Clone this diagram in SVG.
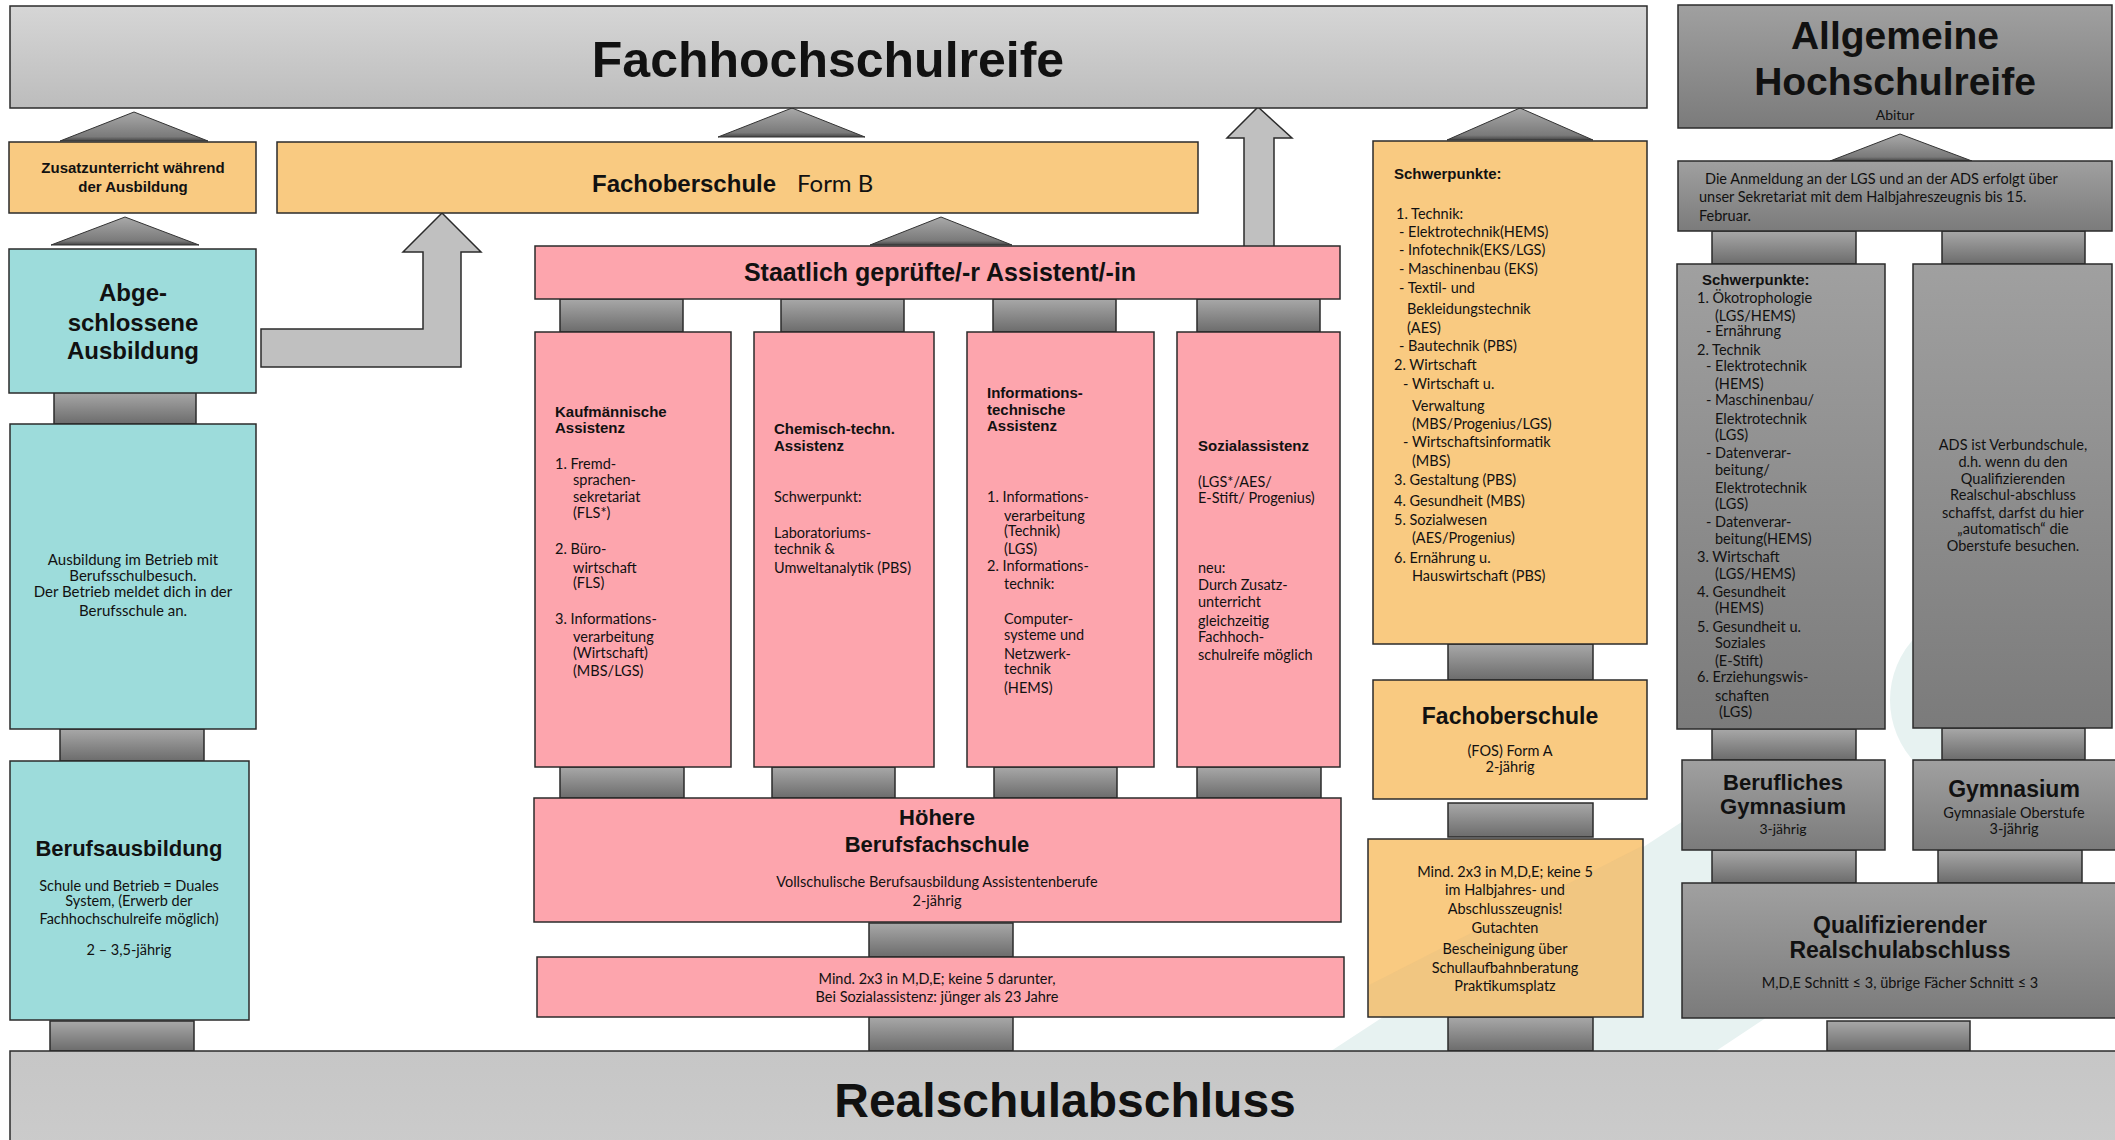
<svg xmlns="http://www.w3.org/2000/svg" width="2115" height="1140" viewBox="0 0 2115 1140">
<defs>
<linearGradient id="gTop" x1="0" y1="0" x2="0" y2="1"><stop offset="0" stop-color="#d6d6d6"/><stop offset="1" stop-color="#bcbcbc"/></linearGradient>
<linearGradient id="gBot" x1="0" y1="0" x2="0" y2="1"><stop offset="0" stop-color="#c6c6c6"/><stop offset="1" stop-color="#cbcbcb"/></linearGradient>
<linearGradient id="gGray" x1="0" y1="0" x2="0" y2="1"><stop offset="0" stop-color="#a0a0a0"/><stop offset="1" stop-color="#7b7b7b"/></linearGradient>
<linearGradient id="gConn" x1="0" y1="0" x2="0" y2="1"><stop offset="0" stop-color="#a8a8a8"/><stop offset="1" stop-color="#6c6c6c"/></linearGradient>
<linearGradient id="gTri" x1="0" y1="0" x2="0" y2="1"><stop offset="0" stop-color="#a9a9a9"/><stop offset="0.85" stop-color="#7a7a7a"/><stop offset="1" stop-color="#444"/></linearGradient>
</defs>
<style>
.bx{stroke:#2b2b2b;stroke-width:1.5}
.or{fill:#f9ca81}
.tl{fill:#9ddcdb}
.pk{fill:#fda5ad}
.gy{fill:url(#gGray)}
.cn{fill:url(#gConn);stroke:#2b2b2b;stroke-width:1.5}
.tri{fill:url(#gTri);stroke:#333;stroke-width:1}
.arr{fill:#c0c0c0;stroke:#2b2b2b;stroke-width:1.5}
text{font-family:Lato,"Liberation Sans",sans-serif;fill:#111;font-size:14.5px}
.b{font-family:"Liberation Sans",Arial,sans-serif;font-weight:bold}
.m{text-anchor:middle}
.s15{font-size:15px}
.h15{font-size:15px}
.h22{font-size:22px}
.h23{font-size:23px}
.h24{font-size:24px}
</style>

<g id="watermark">
<path d="M1331,1051 L1716,1051 L1850,962 L1850,830 L1700,810 Z" fill="#e7f2f1"/>
<circle cx="1981" cy="700" r="91" fill="#e7f2f1"/>
</g>

<g id="connectors">
<polygon class="tri" points="134,112 208,141 60,141"/>
<polygon class="tri" points="125,217 199,245 51,245"/>
<polygon class="tri" points="792,108 865,137 718,137"/>
<polygon class="tri" points="941,217 1012,245 870,245"/>
<polygon class="tri" points="1520,108 1593,140 1447,140"/>
<polygon class="tri" points="1900,134 1972,161 1830,161"/>
<polygon class="arr" points="261,329 423,329 423,252 403,252 442,213 481,252 461,252 461,367 261,367"/>
<polygon class="arr" points="1244,250 1244,138 1227,138 1258,107 1292,138 1274,138 1274,250"/>
<rect class="cn" x="54" y="392" width="142" height="32"/>
<rect class="cn" x="60" y="729" width="144" height="32"/>
<rect class="cn" x="50" y="1021" width="144" height="30"/>
<rect class="cn" x="560" y="299" width="123" height="33"/>
<rect class="cn" x="781" y="299" width="123" height="33"/>
<rect class="cn" x="993" y="299" width="123" height="33"/>
<rect class="cn" x="1197" y="299" width="123" height="33"/>
<rect class="cn" x="560" y="767" width="124" height="31"/>
<rect class="cn" x="772" y="767" width="123" height="31"/>
<rect class="cn" x="994" y="767" width="123" height="31"/>
<rect class="cn" x="1197" y="767" width="124" height="31"/>
<rect class="cn" x="869" y="923" width="144" height="34"/>
<rect class="cn" x="869" y="1017" width="144" height="34"/>
<rect class="cn" x="1448" y="644" width="145" height="36"/>
<rect class="cn" x="1448" y="803" width="145" height="34"/>
<rect class="cn" x="1448" y="1017" width="145" height="34"/>
<rect class="cn" x="1712" y="231" width="144" height="33"/>
<rect class="cn" x="1942" y="231" width="143" height="33"/>
<rect class="cn" x="1712" y="729" width="144" height="31"/>
<rect class="cn" x="1942" y="728" width="143" height="32"/>
<rect class="cn" x="1712" y="850" width="144" height="33"/>
<rect class="cn" x="1938" y="850" width="144" height="33"/>
<rect class="cn" x="1827" y="1021" width="143" height="30"/>
</g>

<g id="fachhochschulreife">
<rect class="bx" x="10" y="6" width="1637" height="102" fill="url(#gTop)"/>
<text class="m b" x="828" y="77" style="font-size:50px">Fachhochschulreife</text>
</g>

<g id="realschulabschluss">
<rect class="bx" x="10" y="1051" width="2112" height="95" fill="url(#gBot)"/>
<text class="m b" x="1065" y="1117" style="font-size:48px">Realschulabschluss</text>
</g>

<g id="zusatzunterricht">
<rect class="bx or" x="9" y="142" width="247" height="71"/>
<text class="m b" x="133" y="173" style="font-size:15px">Zusatzunterricht während</text>
<text class="m b" x="133" y="192" style="font-size:15px">der Ausbildung</text>
</g>

<g id="abgeschlossene-ausbildung">
<rect class="bx tl" x="9" y="249" width="247" height="144"/>
<text class="m b" x="133" y="301" style="font-size:24px">Abge-</text>
<text class="m b" x="133" y="331" style="font-size:24px">schlossene</text>
<text class="m b" x="133" y="359" style="font-size:24px">Ausbildung</text>
</g>

<g id="ausbildung-betrieb">
<rect class="bx tl" x="10" y="424" width="246" height="305"/>
<text class="m s15" x="133" y="565">Ausbildung im Betrieb mit</text>
<text class="m s15" x="133" y="581">Berufsschulbesuch.</text>
<text class="m s15" x="133" y="597">Der Betrieb meldet dich in der</text>
<text class="m s15" x="133" y="616">Berufsschule an.</text>
</g>

<g id="berufsausbildung">
<rect class="bx tl" x="10" y="761" width="239" height="259"/>
<text class="m b h22" x="129" y="856">Berufsausbildung</text>
<text class="m" x="129" y="891">Schule und Betrieb = Duales</text>
<text class="m" x="129" y="906">System, (Erwerb der</text>
<text class="m" x="129" y="924">Fachhochschulreife möglich)</text>
<text class="m" x="129" y="955">2 – 3,5-jährig</text>
</g>

<g id="fos-form-b">
<rect class="bx or" x="277" y="142" width="921" height="71"/>
<text class="b h24" x="592" y="192">Fachoberschule</text>
<text x="797" y="192" style="font-size:24px">Form B</text>
</g>

<g id="staatlich-gepruefte">
<rect class="bx pk" x="535" y="246" width="805" height="53"/>
<text class="m b" x="940" y="281" style="font-size:25px">Staatlich geprüfte/-r Assistent/-in</text>
</g>

<g id="kaufmaennische-assistenz">
<rect class="bx pk" x="535" y="332" width="196" height="435"/>
<text class="b h15" x="555" y="417">Kaufmännische</text>
<text class="b h15" x="555" y="433">Assistenz</text>
<text x="555" y="469">1. Fremd-</text>
<text x="573" y="485">sprachen-</text>
<text x="573" y="502">sekretariat</text>
<text x="573" y="518">(FLS*)</text>
<text x="555" y="554">2. Büro-</text>
<text x="573" y="573">wirtschaft</text>
<text x="573" y="588">(FLS)</text>
<text x="555" y="624">3. Informations-</text>
<text x="573" y="642">verarbeitung</text>
<text x="573" y="658">(Wirtschaft)</text>
<text x="573" y="676">(MBS/LGS)</text>
</g>

<g id="chemisch-technische-assistenz">
<rect class="bx pk" x="754" y="332" width="180" height="435"/>
<text class="b h15" x="774" y="434">Chemisch-techn.</text>
<text class="b h15" x="774" y="451">Assistenz</text>
<text x="774" y="502">Schwerpunkt:</text>
<text x="774" y="538">Laboratoriums-</text>
<text x="774" y="554">technik &amp;</text>
<text x="774" y="573">Umweltanalytik (PBS)</text>
</g>

<g id="informationstechnische-assistenz">
<rect class="bx pk" x="967" y="332" width="187" height="435"/>
<text class="b h15" x="987" y="398">Informations-</text>
<text class="b h15" x="987" y="415">technische</text>
<text class="b h15" x="987" y="431">Assistenz</text>
<text x="987" y="502">1. Informations-</text>
<text x="1004" y="521">verarbeitung</text>
<text x="1004" y="536">(Technik)</text>
<text x="1004" y="554">(LGS)</text>
<text x="987" y="571">2. Informations-</text>
<text x="1004" y="589">technik:</text>
<text x="1004" y="624">Computer-</text>
<text x="1004" y="640">systeme und</text>
<text x="1004" y="659">Netzwerk-</text>
<text x="1004" y="674">technik</text>
<text x="1004" y="693">(HEMS)</text>
</g>

<g id="sozialassistenz">
<rect class="bx pk" x="1177" y="332" width="163" height="435"/>
<text class="b h15" x="1198" y="451">Sozialassistenz</text>
<text x="1198" y="487">(LGS*/AES/</text>
<text x="1198" y="503">E-Stift/ Progenius)</text>
<text x="1198" y="573">neu:</text>
<text x="1198" y="590">Durch Zusatz-</text>
<text x="1198" y="607">unterricht</text>
<text x="1198" y="626">gleichzeitig</text>
<text x="1198" y="642">Fachhoch-</text>
<text x="1198" y="660">schulreife möglich</text>
</g>

<g id="hoehere-berufsfachschule">
<rect class="bx pk" x="534" y="798" width="807" height="124"/>
<text class="m b h22" x="937" y="825">Höhere</text>
<text class="m b h22" x="937" y="852">Berufsfachschule</text>
<text class="m" x="937" y="887">Vollschulische Berufsausbildung Assistentenberufe</text>
<text class="m" x="937" y="906">2-jährig</text>
</g>

<g id="voraussetzung-bfs">
<rect class="bx pk" x="537" y="957" width="807" height="60"/>
<text class="m" x="937" y="984">Mind. 2x3 in M,D,E; keine 5 darunter,</text>
<text class="m" x="937" y="1002">Bei Sozialassistenz: jünger als 23 Jahre</text>
</g>

<g id="fos-schwerpunkte">
<rect class="bx or" x="1373" y="141" width="274" height="503"/>
<text class="b h15" x="1394" y="179">Schwerpunkte:</text>
<text x="1396" y="219">1. Technik:</text>
<text x="1399" y="237">- Elektrotechnik(HEMS)</text>
<text x="1399" y="255">- Infotechnik(EKS/LGS)</text>
<text x="1399" y="274">- Maschinenbau (EKS)</text>
<text x="1399" y="293">- Textil- und</text>
<text x="1407" y="314">Bekleidungstechnik</text>
<text x="1407" y="333">(AES)</text>
<text x="1399" y="351">- Bautechnik (PBS)</text>
<text x="1394" y="370">2. Wirtschaft</text>
<text x="1403" y="389">- Wirtschaft u.</text>
<text x="1412" y="411">Verwaltung</text>
<text x="1412" y="429">(MBS/Progenius/LGS)</text>
<text x="1403" y="447">- Wirtschaftsinformatik</text>
<text x="1412" y="466">(MBS)</text>
<text x="1394" y="485">3. Gestaltung (PBS)</text>
<text x="1394" y="506">4. Gesundheit (MBS)</text>
<text x="1394" y="525">5. Sozialwesen</text>
<text x="1412" y="543">(AES/Progenius)</text>
<text x="1394" y="563">6. Ernährung u.</text>
<text x="1412" y="581">Hauswirtschaft (PBS)</text>
</g>

<g id="fos-form-a">
<rect class="bx or" x="1373" y="680" width="274" height="119"/>
<text class="m b h23" x="1510" y="724">Fachoberschule</text>
<text class="m" x="1510" y="756">(FOS) Form A</text>
<text class="m" x="1510" y="772">2-jährig</text>
</g>

<g id="voraussetzung-fos">
<rect class="bx or" x="1368" y="839" width="275" height="178"/>
<polygon points="1369,985 1642,846 1642,1016 1369,1016" fill="#7a8a80" opacity="0.06"/>
<text class="m" x="1505" y="877">Mind. 2x3 in M,D,E; keine 5</text>
<text class="m" x="1505" y="895">im Halbjahres- und</text>
<text class="m" x="1505" y="914">Abschlusszeugnis!</text>
<text class="m" x="1505" y="933">Gutachten</text>
<text class="m" x="1505" y="954">Bescheinigung über</text>
<text class="m" x="1505" y="973">Schullaufbahnberatung</text>
<text class="m" x="1505" y="991">Praktikumsplatz</text>
</g>

<g id="allgemeine-hochschulreife">
<rect class="bx gy" x="1678" y="5" width="434" height="123"/>
<text class="m b" x="1895" y="49" style="font-size:39px">Allgemeine</text>
<text class="m b" x="1895" y="95" style="font-size:39px">Hochschulreife</text>
<text class="m" x="1895" y="120" style="font-size:14px">Abitur</text>
</g>

<g id="anmeldung">
<rect class="bx gy" x="1678" y="161" width="434" height="70"/>
<text x="1705" y="184">Die Anmeldung an der LGS und an der ADS erfolgt über</text>
<text x="1699" y="202">unser Sekretariat mit dem Halbjahreszeugnis bis 15.</text>
<text x="1699" y="221">Februar.</text>
</g>

<g id="bg-schwerpunkte">
<rect class="bx gy" x="1677" y="264" width="208" height="465"/>
<text class="b h15" x="1702" y="285">Schwerpunkte:</text>
<text x="1697" y="303">1. Ökotrophologie</text>
<text x="1715" y="321">(LGS/HEMS)</text>
<text x="1706" y="336">- Ernährung</text>
<text x="1697" y="355">2. Technik</text>
<text x="1706" y="371">- Elektrotechnik</text>
<text x="1715" y="389">(HEMS)</text>
<text x="1706" y="405">- Maschinenbau/</text>
<text x="1715" y="424">Elektrotechnik</text>
<text x="1715" y="440">(LGS)</text>
<text x="1706" y="458">- Datenverar-</text>
<text x="1715" y="475">beitung/</text>
<text x="1715" y="493">Elektrotechnik</text>
<text x="1715" y="509">(LGS)</text>
<text x="1706" y="527">- Datenverar-</text>
<text x="1715" y="544">beitung(HEMS)</text>
<text x="1697" y="562">3. Wirtschaft</text>
<text x="1715" y="579">(LGS/HEMS)</text>
<text x="1697" y="597">4. Gesundheit</text>
<text x="1715" y="613">(HEMS)</text>
<text x="1697" y="632">5. Gesundheit u.</text>
<text x="1715" y="648">Soziales</text>
<text x="1715" y="666">(E-Stift)</text>
<text x="1697" y="682">6. Erziehungswis-</text>
<text x="1715" y="701">schaften</text>
<text x="1719" y="717">(LGS)</text>
</g>

<g id="ads-verbundschule">
<rect class="bx gy" x="1913" y="264" width="199" height="464"/>
<text class="m" x="2013" y="450">ADS ist Verbundschule,</text>
<text class="m" x="2013" y="467">d.h. wenn du den</text>
<text class="m" x="2013" y="484">Qualifizierenden</text>
<text class="m" x="2013" y="500">Realschul-abschluss</text>
<text class="m" x="2013" y="518">schaffst, darfst du hier</text>
<text class="m" x="2013" y="534">„automatisch“ die</text>
<text class="m" x="2013" y="551">Oberstufe besuchen.</text>
</g>

<g id="berufliches-gymnasium">
<rect class="bx gy" x="1682" y="760" width="203" height="90"/>
<text class="m b h22" x="1783" y="790">Berufliches</text>
<text class="m b h22" x="1783" y="814">Gymnasium</text>
<text class="m" x="1783" y="834" style="font-size:14px">3-jährig</text>
</g>

<g id="gymnasium">
<rect class="bx gy" x="1913" y="760" width="205" height="90"/>
<text class="m b h23" x="2014" y="797">Gymnasium</text>
<text class="m" x="2014" y="818">Gymnasiale Oberstufe</text>
<text class="m" x="2014" y="834">3-jährig</text>
</g>

<g id="qualifizierender-realschulabschluss">
<rect class="bx gy" x="1682" y="883" width="436" height="135"/>
<text class="m b h23" x="1900" y="933">Qualifizierender</text>
<text class="m b h23" x="1900" y="958">Realschulabschluss</text>
<text class="m" x="1900" y="988">M,D,E Schnitt ≤ 3, übrige Fächer Schnitt ≤ 3</text>
</g>
</svg>
